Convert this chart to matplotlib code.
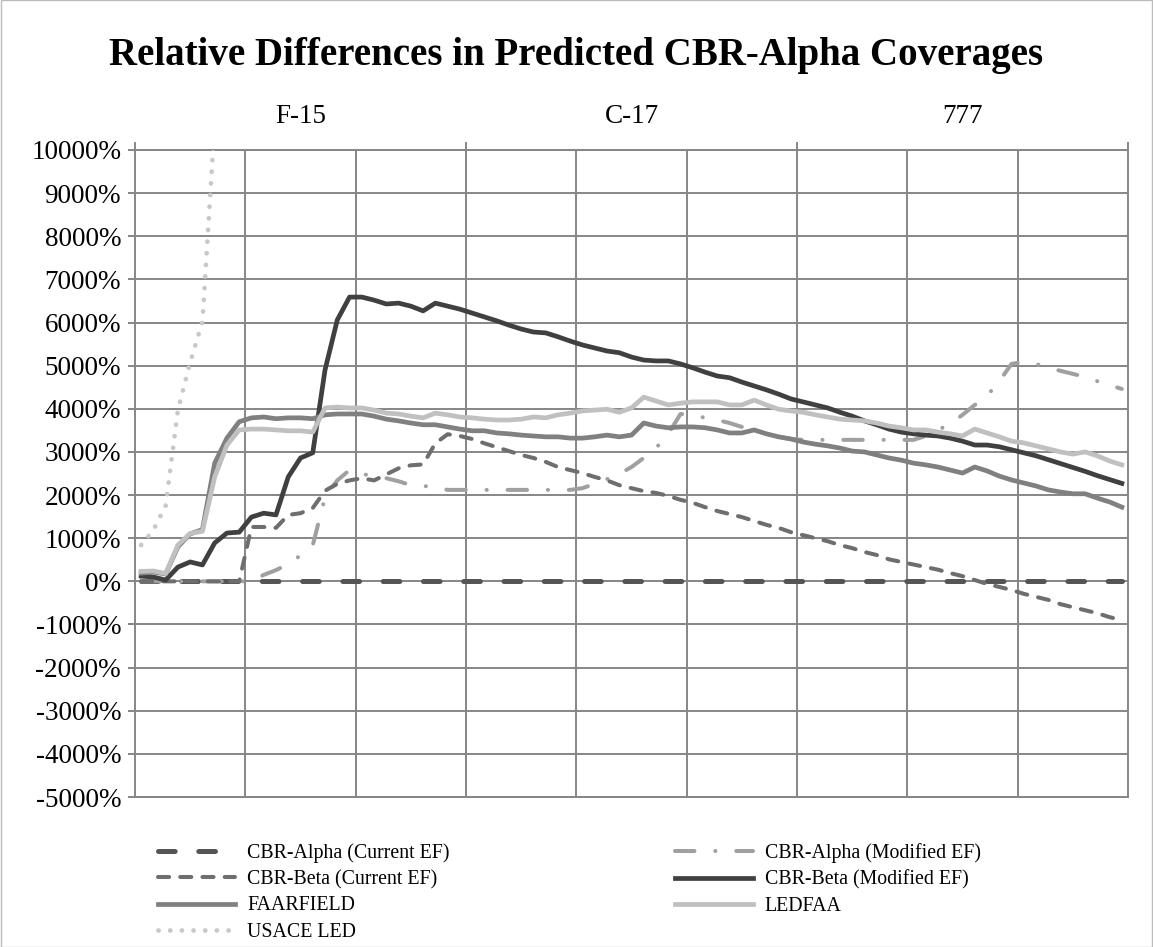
import numpy as np
import matplotlib.pyplot as plt
from matplotlib.patches import Rectangle
from matplotlib.transforms import blended_transform_factory

plt.rcParams['font.family'] = ['Liberation Serif', 'DejaVu Serif']
plt.rcParams['lines.scale_dashes'] = False

# Données (81 points : 27 par avion)
groupes = ['F-15', 'C-17', '777']
n_par_groupe = 27

alpha_courant = [0] * 81

alpha_modifie = [0, 0, 0, 0, 0, 0, 0, 0, 0, 0,
                 150, 260, 400, 600, 840, 1950, 2340, 2580, 2490, 2440,
                 2390, 2320, 2230, 2210, 2190, 2120, 2120, 2120, 2120, 2120,
                 2120, 2120, 2120, 2120, 2120, 2120, 2160, 2260, 2370, 2490,
                 2650, 2860, 3090, 3420, 3880, 3860, 3790, 3740, 3670, 3580,
                 3510, 3420, 3350, 3300, 3280, 3280, 3280, 3280, 3280, 3280,
                 3280, 3280, 3280, 3280, 3370, 3510, 3650, 3860, 4090, 4300,
                 4640, 5040, 5090, 5040, 4950, 4880, 4810, 4740, 4640, 4550, 4460]

beta_courant = [0, 0, 0, 0, 0, 0, 0, 0, 0,
                1260, 1260, 1240, 1540, 1580, 1700, 2100, 2260, 2340, 2390, 2340,
                2480, 2620, 2690, 2710, 3200, 3410, 3370, 3300, 3200, 3110, 3020, 2930, 2860,
                2770, 2650, 2580, 2510, 2420, 2340, 2230, 2160, 2090, 2050, 1980, 1890, 1820, 1720, 1630, 1560,
                1490, 1400, 1310, 1240, 1140, 1070, 1000, 930, 840, 770, 680, 610, 510, 450, 390,
                330, 270, 190, 120, 30, -60, -130, -200, -290, -360, -430, -530, -600, -670, -740, -830, -900]

beta_modifie = [120, 100, 30, 330, 450, 380, 890, 1120, 1140, 1490,
                1580, 1540, 2420, 2860, 2980, 4900, 6060, 6590, 6590, 6520,
                6430, 6450, 6380, 6270, 6450, 6380, 6310, 6220, 6130, 6040,
                5940, 5850, 5780, 5760, 5670, 5570, 5480, 5410, 5340, 5300,
                5200, 5130, 5110, 5110, 5040, 4950, 4850, 4760, 4720, 4620,
                4530, 4440, 4340, 4230, 4160, 4090, 4020, 3920, 3830, 3720,
                3630, 3530, 3460, 3420, 3390, 3370, 3320, 3250, 3160, 3160,
                3120, 3050, 2980, 2910, 2820, 2730, 2640, 2550, 2450, 2360, 2270]

faarfield = [190, 215, 170, 800, 1100, 1200, 2740, 3320, 3700, 3790,
             3810, 3770, 3790, 3790, 3770, 3860, 3880, 3880, 3880, 3830,
             3760, 3720, 3670, 3630, 3630, 3580, 3530, 3490, 3490, 3440,
             3420, 3390, 3370, 3350, 3350, 3320, 3320, 3350, 3390, 3350,
             3390, 3670, 3600, 3560, 3580, 3580, 3560, 3510, 3440, 3440,
             3510, 3420, 3350, 3300, 3230, 3180, 3140, 3090, 3020, 3000,
             2930, 2860, 2810, 2740, 2700, 2650, 2580, 2510, 2650, 2560,
             2440, 2350, 2280, 2210, 2120, 2070, 2030, 2030, 1930, 1840, 1720]

ledfaa = [230, 240, 180, 840, 1110, 1160, 2420, 3160, 3510, 3530,
          3530, 3510, 3490, 3490, 3460, 4020, 4040, 4020, 4020, 3970,
          3900, 3880, 3830, 3790, 3900, 3860, 3810, 3790, 3760, 3740,
          3740, 3760, 3810, 3790, 3860, 3900, 3950, 3970, 3990, 3920,
          4020, 4270, 4180, 4090, 4130, 4160, 4160, 4160, 4090, 4090,
          4200, 4090, 3990, 3950, 3920, 3860, 3810, 3760, 3740, 3720,
          3670, 3600, 3560, 3510, 3510, 3460, 3420, 3370, 3530, 3440,
          3350, 3250, 3210, 3140, 3070, 3000, 2950, 3000, 2910, 2790, 2700]

usace_led = [840, 1190, 1750, 3970, 5080, 6020, 10620]

x = np.arange(len(alpha_courant))

fig = plt.figure(figsize=(11.53, 9.47), dpi=100)
ax = fig.add_axes([135/1153, 1-797/947, 993/1153, 647/947])

gris = '#868686'

# Séries
ax.plot(x, alpha_courant, color='#555555', lw=3.6, dashes=(12, 17),
        dash_capstyle='round', label='CBR-Alpha (Current EF)', zorder=3)
ax.plot(x, alpha_modifie, color='#a0a0a0', lw=2.9, dashes=(14, 15, 0.1, 15),
        dash_capstyle='round', label='CBR-Alpha (Modified EF)', zorder=3)
ax.plot(x, beta_courant, color='#6e6e6e', lw=2.9, dashes=(8, 8),
        dash_capstyle='round', label='CBR-Beta (Current EF)', zorder=3)
ax.plot(x, beta_modifie, color='#404040', lw=3.4, label='CBR-Beta (Modified EF)',
        solid_joinstyle='round', zorder=3)
ax.plot(x, faarfield, color='#808080', lw=3.4, label='FAARFIELD',
        solid_joinstyle='round', zorder=3)
ax.plot(x, ledfaa, color='#c0c0c0', lw=3.4, label='LEDFAA',
        solid_joinstyle='round', zorder=3)
ax.plot(x[:len(usace_led)], usace_led, color='#c8c8c8', lw=3.4, dashes=(0.1, 8.3),
        dash_capstyle='round', label='USACE LED', zorder=3)

# Axes
ax.set_xlim(-0.5, len(x) - 0.5)
ax.set_ylim(-5000, 10000)
ax.set_yticks(np.arange(-5000, 10001, 1000))
ax.set_yticklabels([f'{v}%' for v in range(-5000, 10001, 1000)])
ax.grid(axis='y', color=gris, lw=1.4, zorder=1)
for xv in np.arange(8.5, len(x) - 1, 9):
    ax.axvline(xv, color=gris, lw=1.4, zorder=1)
for s in ax.spines.values():
    s.set_color(gris)
    s.set_linewidth(1.4)
ax.tick_params(axis='y', length=5, color=gris, width=1.4, labelsize=19.5, pad=5)
ax.set_xticks([])

# Étiquettes des groupes au-dessus
trans = blended_transform_factory(ax.transData, ax.transAxes)
for k, g in enumerate(groupes):
    ax.text(k * n_par_groupe + (n_par_groupe - 1) / 2, 1.052, g, transform=trans,
            ha='center', va='center', fontsize=19.5)
for k in range(len(groupes) + 1):
    xb = k * n_par_groupe - 0.5
    ax.plot([xb, xb], [1.0, 1.011], transform=trans, color=gris, lw=1.4, clip_on=False)

fig.text(0.5, 1 - 56/947, 'Relative Differences in Predicted CBR-Alpha Coverages',
         ha='center', va='center', fontsize=28, fontweight='bold')

# Légende (ordre ligne par ligne comme l'original)
h, l = ax.get_legend_handles_labels()
ordre = [0, 2, 4, 6, 1, 3, 5]
fig.legend([h[i] for i in ordre], [l[i] for i in ordre], ncol=2,
           loc='upper left', bbox_to_anchor=(158/1153, 1 - 843/947),
           frameon=False, fontsize=14.3, handlelength=3.9, handletextpad=0.6,
           columnspacing=11.35, labelspacing=0.36, borderpad=0, borderaxespad=0)

fig.patches.append(Rectangle((0.0005, 0.0005), 0.999, 0.999, transform=fig.transFigure,
                             fill=False, edgecolor='#bcbcbc', lw=1))

fig.savefig('out.png', dpi=100)
